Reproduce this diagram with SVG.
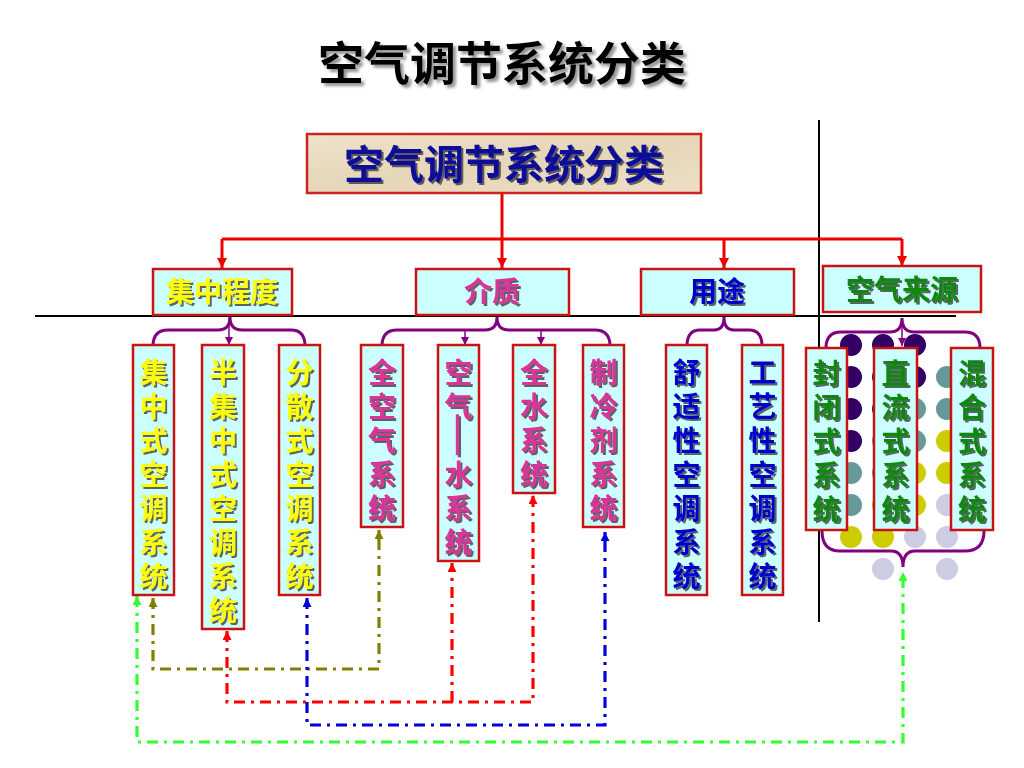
<svg xmlns="http://www.w3.org/2000/svg" width="1024" height="768" viewBox="0 0 1024 768">
<style>
.cjk{font-family:"Noto Sans CJK SC","Noto Sans CJK TC",sans-serif;font-weight:bold;text-anchor:middle}
.box{fill:#CCFFFF;stroke:#CC1111;stroke-width:2.5}
.vt{font-size:28px}
.yel{fill:#FFFF00;filter:url(#sh)}
.mag{fill:#DD3399;filter:url(#sh)}
.blu{fill:#0000CC;filter:url(#sh)}
.grn{fill:#118811;filter:url(#sh)}
.red{stroke:#EE0000;stroke-width:3;fill:none}
.brace{stroke:#800080;stroke-width:3;fill:none}
.parr{stroke:#800080;stroke-width:1.5;fill:none}
.dd{stroke-width:3.2;fill:none;stroke-dasharray:11 6 3 6}
.blk{stroke:#000;stroke-width:2}
</style>
<defs>
<filter id="sh" x="-20%" y="-20%" width="140%" height="140%"><feDropShadow dx="2" dy="2" stdDeviation="0.6" flood-color="#303030" flood-opacity="0.75"/></filter>
<filter id="tsh" x="-10%" y="-20%" width="120%" height="150%"><feDropShadow dx="3" dy="3" stdDeviation="1.5" flood-color="#666" flood-opacity="0.7"/></filter>
<marker id="ar" viewBox="0 0 10 10" refX="10" refY="5" markerWidth="10" markerHeight="10" markerUnits="userSpaceOnUse" orient="auto-start-reverse"><path d="M0,0 L10,5 L0,10 z" fill="#EE0000"/></marker>
<marker id="ap" viewBox="0 0 10 10" refX="10" refY="5" markerWidth="8" markerHeight="8" markerUnits="userSpaceOnUse" orient="auto-start-reverse"><path d="M0,0 L10,5 L0,10 z" fill="#800080"/></marker>
<marker id="ao" viewBox="0 0 10 10" refX="10" refY="5" markerWidth="9" markerHeight="9" markerUnits="userSpaceOnUse" orient="auto-start-reverse"><path d="M0,0 L10,5 L0,10 z" fill="#808000"/></marker>
<marker id="arr" viewBox="0 0 10 10" refX="10" refY="5" markerWidth="9" markerHeight="9" markerUnits="userSpaceOnUse" orient="auto-start-reverse"><path d="M0,0 L10,5 L0,10 z" fill="#FF0000"/></marker>
<marker id="ab" viewBox="0 0 10 10" refX="10" refY="5" markerWidth="9" markerHeight="9" markerUnits="userSpaceOnUse" orient="auto-start-reverse"><path d="M0,0 L10,5 L0,10 z" fill="#0000DD"/></marker>
<marker id="ag" viewBox="0 0 10 10" refX="10" refY="5" markerWidth="9" markerHeight="9" markerUnits="userSpaceOnUse" orient="auto-start-reverse"><path d="M0,0 L10,5 L0,10 z" fill="#33FF33"/></marker>
<linearGradient id="beige" x1="0" y1="0" x2="1" y2="1"><stop offset="0" stop-color="#EEE2CA"/><stop offset="0.5" stop-color="#E6D6B8"/><stop offset="1" stop-color="#ECDFC6"/></linearGradient>
</defs>
<rect width="1024" height="768" fill="#FFFFFF"/>

<text class="cjk" x="502" y="80" font-size="46" fill="#000" filter="url(#tsh)">空气调节系统分类</text>

<g id="dividers">
<line class="blk" x1="819" y1="120" x2="819" y2="622"/>
<line class="blk" x1="35" y1="316" x2="956" y2="316"/>
</g>

<g id="dots">
<g fill="#330066">
<circle cx="851" cy="345" r="11"/><circle cx="883" cy="345" r="11"/><circle cx="915" cy="345" r="11"/>
<circle cx="851" cy="377" r="11"/><circle cx="883" cy="377" r="11"/><circle cx="915" cy="377" r="11"/>
<circle cx="851" cy="409" r="11"/><circle cx="883" cy="409" r="11"/>
<circle cx="851" cy="441" r="11"/>
</g>
<g fill="#669999">
<circle cx="947" cy="377" r="11"/>
<circle cx="915" cy="409" r="11"/><circle cx="947" cy="409" r="11"/>
<circle cx="883" cy="441" r="11"/><circle cx="915" cy="441" r="11"/>
<circle cx="851" cy="473" r="11"/><circle cx="883" cy="473" r="11"/>
<circle cx="851" cy="505" r="11"/>
</g>
<g fill="#CCCC00">
<circle cx="947" cy="441" r="11"/>
<circle cx="915" cy="473" r="11"/><circle cx="947" cy="473" r="11"/>
<circle cx="883" cy="505" r="11"/><circle cx="915" cy="505" r="11"/>
<circle cx="851" cy="537" r="11"/><circle cx="883" cy="537" r="11"/>
</g>
<g fill="#CCCCE4">
<circle cx="947" cy="505" r="11"/>
<circle cx="915" cy="537" r="11"/><circle cx="947" cy="537" r="11"/>
<circle cx="883" cy="569" r="11"/><circle cx="947" cy="569" r="11"/>
</g>
</g>

<g id="connectors">
<path class="red" d="M502,193 V239"/>
<path class="red" d="M222,239 H902"/>
<path class="red" d="M222,239 V268" marker-end="url(#ar)"/>
<path class="red" d="M502,239 V268" marker-end="url(#ar)"/>
<path class="red" d="M724,239 V268" marker-end="url(#ar)"/>
<path class="red" d="M902,239 V266" marker-end="url(#ar)"/>

<path class="brace" d="M153,346 Q153,330 168,330 L218,330 Q230,330 230,317 Q230,330 242,330 L291,330 Q305,330 305,346"/>
<path class="parr" d="M229,318 V345" marker-end="url(#ap)"/>
<path class="brace" d="M382,346 Q382,330 397,330 L485,330 Q497,330 497,317 Q497,330 509,330 L595,330 Q610,330 610,346"/>
<path class="parr" d="M465,330 V345" marker-end="url(#ap)"/>
<path class="parr" d="M541,330 V345" marker-end="url(#ap)"/>
<path class="brace" d="M687,346 Q687,330 700,330 L714,330 Q724,330 724,317 Q724,330 734,330 L749,330 Q762,330 762,346"/>
<path class="brace" d="M826,348 Q826,332 841,332 L890,332 Q902,332 902,318 Q902,332 914,332 L965,332 Q980,332 980,348"/>
<path class="parr" d="M902,320 V346" marker-end="url(#ap)"/>
<path class="brace" d="M822,531 Q822,551 840,551 L891,551 Q903,551 903,567 Q903,551 915,551 L965,551 Q984,551 984,531"/>

<path class="dd" stroke="#808000" d="M153,598 V669 H379 V530" marker-start="url(#ao)" marker-end="url(#ao)"/>
<path class="dd" stroke="#FF0000" d="M227,631 V702 H533 V495" marker-start="url(#arr)" marker-end="url(#arr)"/>
<path class="dd" stroke="#FF0000" d="M452,702 V563" marker-end="url(#arr)"/>
<path class="dd" stroke="#0000DD" d="M307,598 V725 H605 V532" marker-start="url(#ab)" marker-end="url(#ab)"/>
<path class="dd" stroke="#33FF33" d="M137,596 V742 H903 V572" marker-start="url(#ag)" marker-end="url(#ag)"/>
</g>

<g id="root">
<rect x="307" y="134" width="394" height="59" fill="url(#beige)" stroke="#CC2222" stroke-width="2.5"/>
<text class="cjk" x="504" y="179" font-size="40" fill="#0A0A99" filter="url(#sh)">空气调节系统分类</text>
</g>

<g id="n-jizhong">
<rect class="box" x="153" y="269" width="139" height="46"/>
<text class="cjk yel" x="222" y="302" font-size="28">集中程度</text>
</g>
<g id="n-jiezhi">
<rect class="box" x="416" y="269" width="153" height="46"/>
<text class="cjk mag" x="492" y="302" font-size="28">介质</text>
</g>
<g id="n-yongtu">
<rect class="box" x="641" y="269" width="153" height="46"/>
<text class="cjk blu" x="717" y="302" font-size="28">用途</text>
</g>
<g id="n-laiyuan">
<rect class="box" x="823" y="266" width="158" height="46"/>
<text class="cjk grn" x="902" y="300" font-size="28">空气来源</text>
</g>

<g id="n1">
<rect class="box" x="133" y="345" width="41" height="250"/>
<text class="cjk vt yel" x="153.5 153.5 153.5 153.5 153.5 153.5 153.5" y="383 417 451 485 519 553 587">集中式空调系统</text>
</g>
<g id="n2">
<rect class="box" x="202" y="345" width="42" height="284"/>
<text class="cjk vt yel" x="223 223 223 223 223 223 223 223" y="383 417 451 485 519 553 587 621">半集中式空调系统</text>
</g>
<g id="n3">
<rect class="box" x="279" y="345" width="41" height="250"/>
<text class="cjk vt yel" x="299.5 299.5 299.5 299.5 299.5 299.5 299.5" y="383 417 451 485 519 553 587">分散式空调系统</text>
</g>
<g id="n4">
<rect class="box" x="361" y="345" width="42" height="182"/>
<text class="cjk vt mag" x="382 382 382 382 382" y="383 417 451 485 519">全空气系统</text>
</g>
<g id="n5">
<rect class="box" x="438" y="345" width="41" height="216"/>
<text class="cjk vt mag"><tspan x="458.5" y="383">空</tspan><tspan x="458.5" y="417">气</tspan><tspan x="465.5" y="412" font-size="51" font-weight="normal" rotate="90">—</tspan><tspan x="458.5" y="485">水</tspan><tspan x="458.5" y="519">系</tspan><tspan x="458.5" y="553">统</tspan></text>
</g>
<g id="n6">
<rect class="box" x="513" y="345" width="42" height="148"/>
<text class="cjk vt mag" x="534 534 534 534" y="383 417 451 485">全水系统</text>
</g>
<g id="n7">
<rect class="box" x="583" y="345" width="41" height="182"/>
<text class="cjk vt mag" x="603.5 603.5 603.5 603.5 603.5" y="383 417 451 485 519">制冷剂系统</text>
</g>
<g id="n8">
<rect class="box" x="666" y="345" width="41" height="250"/>
<text class="cjk vt blu" x="686.5 686.5 686.5 686.5 686.5 686.5 686.5" y="383 417 451 485 519 553 587">舒适性空调系统</text>
</g>
<g id="n9">
<rect class="box" x="742" y="345" width="41" height="250"/>
<text class="cjk vt blu" x="762.5 762.5 762.5 762.5 762.5 762.5 762.5" y="383 417 451 485 519 553 587">工艺性空调系统</text>
</g>
<g id="n10">
<rect class="box" x="806" y="348" width="41" height="182"/>
<text class="cjk vt grn" x="826.5 826.5 826.5 826.5 826.5" y="384 418 452 486 520">封闭式系统</text>
</g>
<g id="n11">
<rect class="box" x="874" y="348" width="43" height="182"/>
<text class="cjk vt grn" x="895.5 895.5 895.5 895.5 895.5" y="384 418 452 486 520">直流式系统</text>
</g>
<g id="n12">
<rect class="box" x="951" y="348" width="42" height="182"/>
<text class="cjk vt grn" x="972 972 972 972 972" y="384 418 452 486 520">混合式系统</text>
</g>
</svg>
